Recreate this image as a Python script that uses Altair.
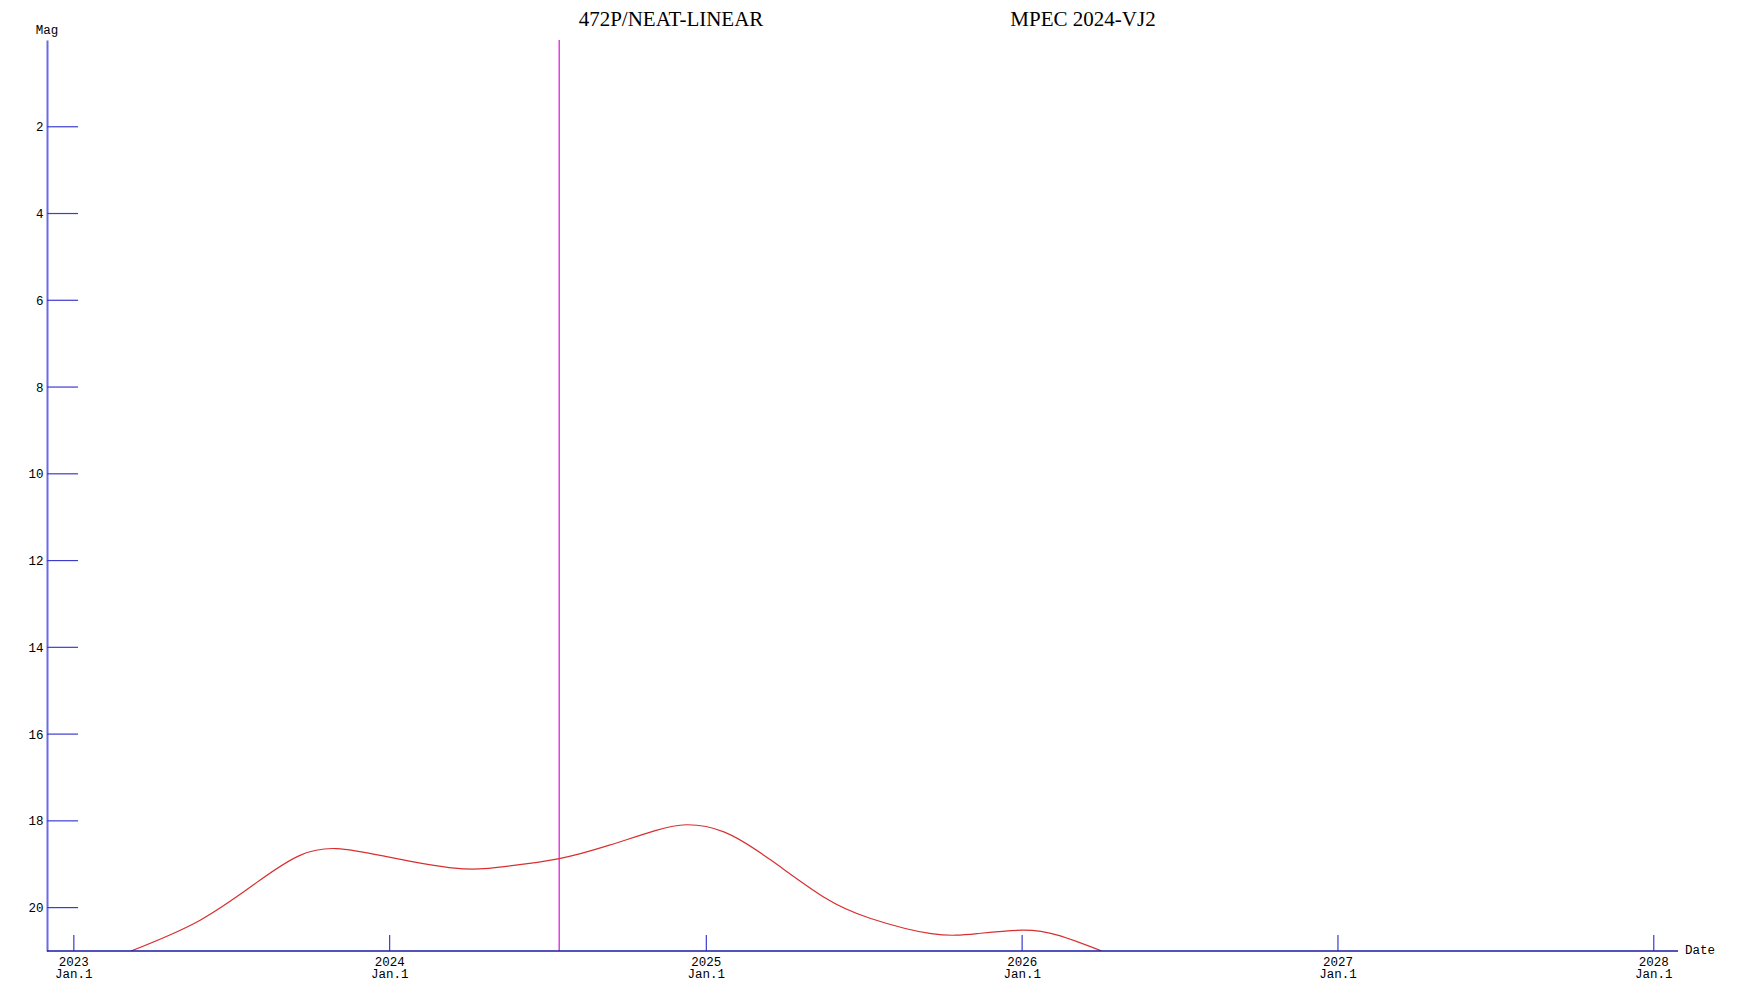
import altair as alt
import pandas as pd

# Light-curve samples (date, magnitude)
curve_dates = [
    "2023-03-08", "2023-05-27", "2023-08-04", "2023-09-20", "2023-11-01",
    "2023-12-30", "2024-03-16", "2024-05-10", "2024-07-15", "2024-09-11",
    "2024-11-04", "2024-12-09", "2025-01-22", "2025-03-17", "2025-05-17",
    "2025-07-10", "2025-09-18", "2025-11-10", "2026-01-01", "2026-02-12",
    "2026-04-03",
]
curve_mags = [
    21.0, 20.29, 19.37, 18.79, 18.64,
    18.83, 19.09, 19.06, 18.87, 18.56,
    18.22, 18.09, 18.26, 18.91, 19.76,
    20.25, 20.6, 20.6, 20.52, 20.64,
    21.0,
]

# Date of the vertical marker
marker_date = ["2024-07-15"]

# Axis tick values
year_ticks = ["2023-01-01", "2024-01-01", "2025-01-01", "2026-01-01", "2027-01-01", "2028-01-01"]
year_labels = ["2023", "2024", "2025", "2026", "2027", "2028"]
mag_ticks = [2, 4, 6, 8, 10, 12, 14, 16, 18, 20]

title_left = "472P/NEAT-LINEAR"
title_right = "MPEC 2024-VJ2"

W, H = 1631, 911
MONO = "Liberation Mono"
FS = 12.5
BLUE = "#3c3cd0"

curve_df = pd.DataFrame({"date": pd.to_datetime(curve_dates), "mag": curve_mags})
marker_df = pd.DataFrame({"date": pd.to_datetime(marker_date)})
xt_df = pd.DataFrame({"date": pd.to_datetime(year_ticks), "year": year_labels})
yt_df = pd.DataFrame({"mag": mag_ticks})
one = pd.DataFrame({"k": [0]})

xscale = alt.Scale(type="utc", domain=["2022-12-01T00:00:00", "2028-01-29T00:00:00"])
yscale = alt.Scale(domain=[0, 21], reverse=True)

x_enc = alt.X("date:T", scale=xscale, axis=None)

curve = alt.Chart(curve_df).mark_line(color="#d83030", strokeWidth=1.2, interpolate="natural", clip=True).encode(
    x=x_enc,
    y=alt.Y("mag:Q", scale=yscale, axis=alt.Axis(
        values=mag_ticks, ticks=False, grid=False, domainColor="#6a6ae6", domainWidth=2,
        labelFont=MONO, labelFontSize=FS, labelFontWeight="normal", labelColor="#000000",
        labelPadding=4, title=None)),
)

marker = alt.Chart(marker_df).mark_rule(color="#e040e0", strokeWidth=1.5).encode(
    x=x_enc, y=alt.value(0), y2=alt.value(H),
)

xticks = alt.Chart(xt_df).mark_rule(color=BLUE, strokeWidth=1.2).encode(
    x=x_enc, y=alt.value(H - 16), y2=alt.value(H),
)

xlab1 = alt.Chart(xt_df).mark_text(font=MONO, fontSize=FS, fontWeight="normal", color="#000000", baseline="middle").encode(
    x=x_enc, y=alt.value(H + 11), text="year:N",
)
xlab2 = alt.Chart(xt_df).mark_text(font=MONO, fontSize=FS, fontWeight="normal", color="#000000", baseline="middle", text="Jan.1").encode(
    x=x_enc, y=alt.value(H + 23),
)

yticks = alt.Chart(yt_df).mark_rule(color=BLUE, strokeWidth=1.2).encode(
    y=alt.Y("mag:Q", scale=yscale), x=alt.value(0), x2=alt.value(31),
)

xaxis_line = alt.Chart(one).mark_rule(color="#1a1aa8", strokeWidth=1.5).encode(
    x=alt.value(0), x2=alt.value(W), y=alt.value(H),
)

mag_label = alt.Chart(one).mark_text(font=MONO, fontSize=FS, fontWeight="normal", color="#000000", text="Mag", baseline="middle").encode(
    x=alt.value(0), y=alt.value(-10),
)
date_label = alt.Chart(one).mark_text(font=MONO, fontSize=FS, fontWeight="normal", color="#000000", text="Date", align="left", baseline="middle").encode(
    x=alt.value(W + 7), y=alt.value(H - 1),
)
t1 = alt.Chart(one).mark_text(font="Liberation Serif", fontSize=21, fontWeight="normal", color="#000000", text=title_left, baseline="alphabetic").encode(
    x=alt.value(624), y=alt.value(-14),
)
t2 = alt.Chart(one).mark_text(font="Liberation Serif", fontSize=21, fontWeight="normal", color="#000000", text=title_right, baseline="alphabetic").encode(
    x=alt.value(1036), y=alt.value(-14),
)

chart = alt.layer(
    marker, curve, yticks, xticks, xaxis_line, xlab1, xlab2, mag_label, date_label, t1, t2
).properties(
    width=W, height=H,
    background="#ffffff",
    autosize=alt.AutoSizeParams(type="none"),
    padding={"left": 39, "top": 32, "right": 60, "bottom": 40},
).configure_view(strokeWidth=0, stroke="transparent")

chart.save("out.html", embed_options={"renderer": "svg", "actions": False})
